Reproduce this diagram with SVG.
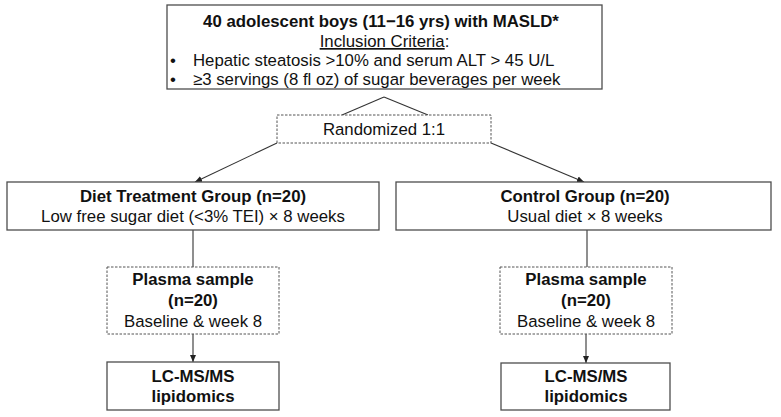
<svg xmlns="http://www.w3.org/2000/svg" width="781" height="417" viewBox="0 0 781 417">
<defs>
<style>
.box{fill:#fff;stroke:#4d4d4d;stroke-width:1.3}
.dash{fill:#fff;stroke:#555;stroke-width:1;stroke-dasharray:2.5 1.5}
.ln{stroke:#333;stroke-width:1.1;fill:none}
text{font-family:"Liberation Sans",Arial,sans-serif;font-size:16.8px;fill:#111}
.b{font-weight:bold}
.c{text-anchor:middle}
</style>
<marker id="ah" markerWidth="8" markerHeight="8" refX="7" refY="4" orient="auto" markerUnits="userSpaceOnUse">
<path d="M0,1 L7,4 L0,7 Z" fill="#222"/>
</marker>
</defs>
<rect width="781" height="417" fill="#fff"/>
<g id="connectors">
<line class="ln" x1="384" y1="97" x2="342" y2="115"/>
<line class="ln" x1="384" y1="97" x2="428" y2="115"/>
<line class="ln" x1="277" y1="143" x2="195" y2="182" marker-end="url(#ah)"/>
<line class="ln" x1="491" y1="143" x2="584" y2="182" marker-end="url(#ah)"/>
<line class="ln" x1="193" y1="230" x2="193" y2="267"/>
<line class="ln" x1="587" y1="230" x2="587" y2="267"/>
<line class="ln" x1="193" y1="334" x2="193" y2="362" marker-end="url(#ah)"/>
<line class="ln" x1="586" y1="334" x2="586" y2="363" marker-end="url(#ah)"/>
</g>
<g id="top">
<rect class="box" x="167" y="5" width="435" height="84"/>
<text class="b c" x="381" y="27">40 adolescent boys (11−16 yrs) with MASLD*</text>
<text class="c" x="384.5" y="47"><tspan text-decoration="underline">Inclusion Criteria</tspan>:</text>
<text x="170" y="66">•</text>
<text x="193" y="66">Hepatic steatosis &gt;10% and serum ALT &gt; 45 U/L</text>
<text x="170" y="85">•</text>
<text x="193" y="85">≥3 servings (8 fl oz) of sugar beverages per week</text>
</g>
<g id="randomized">
<rect class="dash" x="277" y="115" width="214" height="28"/>
<text class="c" x="384" y="135">Randomized 1:1</text>
</g>
<g id="diet">
<rect class="box" x="7" y="182" width="372" height="48"/>
<text class="b c" x="193" y="202">Diet Treatment Group (n=20)</text>
<text class="c" x="193" y="222">Low free sugar diet (&lt;3% TEI) × 8 weeks</text>
</g>
<g id="control">
<rect class="box" x="396" y="182" width="375" height="48"/>
<text class="b c" x="585" y="202">Control Group (n=20)</text>
<text class="c" x="585" y="222">Usual diet × 8 weeks</text>
</g>
<g id="plasma-left">
<rect class="dash" x="107" y="267" width="172" height="67"/>
<text class="b c" x="193" y="285">Plasma sample</text>
<text class="b c" x="193" y="306">(n=20)</text>
<text class="c" x="193" y="327">Baseline &amp; week 8</text>
</g>
<g id="plasma-right">
<rect class="dash" x="500" y="267" width="172" height="67"/>
<text class="b c" x="586" y="285">Plasma sample</text>
<text class="b c" x="586" y="306">(n=20)</text>
<text class="c" x="586" y="327">Baseline &amp; week 8</text>
</g>
<g id="lcms-left">
<rect class="box" x="107" y="362" width="172" height="48"/>
<text class="b c" x="193" y="382">LC-MS/MS</text>
<text class="b c" x="193" y="402">lipidomics</text>
</g>
<g id="lcms-right">
<rect class="box" x="501" y="363" width="169" height="47"/>
<text class="b c" x="586" y="382">LC-MS/MS</text>
<text class="b c" x="586" y="402">lipidomics</text>
</g>
</svg>
